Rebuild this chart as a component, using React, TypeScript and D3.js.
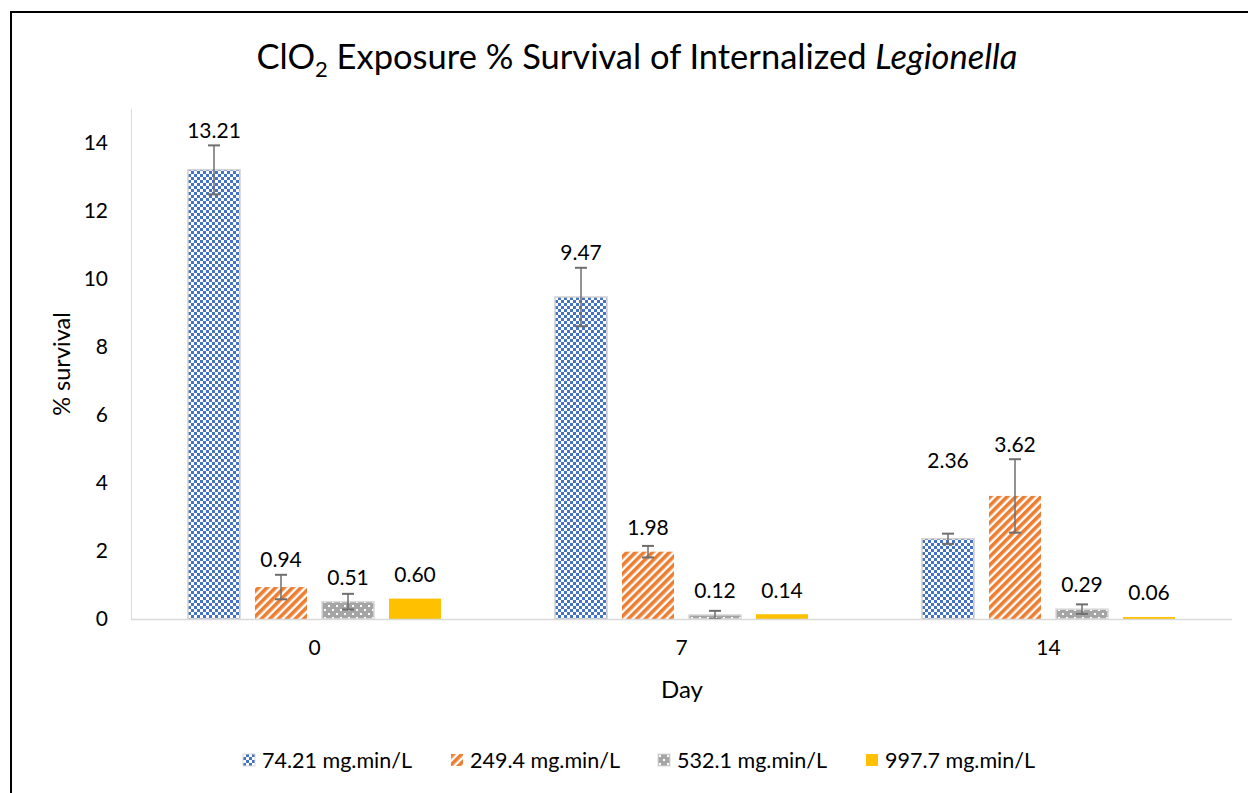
import React, { useEffect } from 'react';
import * as d3 from 'd3';

// ---- data ----
const days = ['0', '7', '14'];
const seriesNames = ['74.21 mg.min/L', '249.4 mg.min/L', '532.1 mg.min/L', '997.7 mg.min/L'];
const dose74 = [13.21, 9.47, 2.36];
const dose249 = [0.94, 1.98, 3.62];
const dose532 = [0.51, 0.12, 0.29];
const dose997 = [0.6, 0.14, 0.06];
const err74 = [0.72, 0.86, 0.15];
const err249 = [0.36, 0.17, 1.08];
const err532 = [0.23, 0.12, 0.14];
const err997 = [0, 0, 0];
const yTicks = [0, 2, 4, 6, 8, 10, 12, 14];

const seriesValues = [dose74, dose249, dose532, dose997];
const seriesErrors = [err74, err249, err532, err997];

// ---- layout ----
const W = 1248;
const H = 793;
const FONT = 'Lato, "Open Sans", sans-serif';
const fills = ['url(#pBlue)', 'url(#pOrange)', 'url(#pGray)', '#FFC000'];
const strokes = ['#d0d0d0', 'none', '#d9d9d9', 'none'];
const legendX = [243, 451, 658, 866];
// extra lift (px) for a manually placed label
const labelExtraLift = [
  [0, 0, 0, 0],
  [0, 0, 0, 0],
  [54, 0, 0, 0],
];

export default function App() {
  useEffect(() => {
    document.body.style.margin = '0';
  }, []);

  const x = d3.scaleBand<string>().domain(days).range([131, 1232]).paddingInner(0).paddingOuter(0);
  const xs = d3.scaleBand<number>().domain([0, 1, 2, 3]).range([57, 310]).paddingInner(15 / 67).paddingOuter(0);
  const y = d3.scaleLinear().domain([0, 15]).range([619, 109]);

  return (
    <svg width={W} height={H} style={{ display: 'block', background: '#fff' }} fontFamily={FONT}>
      <defs>
        <pattern id="pBlue" width={6} height={6} patternUnits="userSpaceOnUse">
          <rect width={6} height={6} fill="#4472C4" />
          <rect x={0} y={0} width={3} height={3} fill="#fff" />
          <rect x={3} y={3} width={3} height={3} fill="#fff" />
        </pattern>
        <pattern id="pOrange" width={6} height={6} patternUnits="userSpaceOnUse" patternTransform="rotate(45)">
          <rect width={6} height={6} fill="#fff" />
          <rect x={0} y={0} width={3.6} height={6} fill="#ED7D31" />
        </pattern>
        <pattern id="pGray" width={8} height={8} patternUnits="userSpaceOnUse">
          <rect width={8} height={8} fill="#A5A5A5" />
          <rect x={1} y={1} width={2} height={2} fill="#fff" />
          <rect x={5} y={5} width={2} height={2} fill="#fff" />
        </pattern>
      </defs>

      {/* chart frame */}
      <rect x={11} y={12} width={W + 20} height={H + 20} fill="none" stroke="#000" strokeWidth={2} />

      {/* title */}
      <text x={637} y={69} textAnchor="middle" fontSize={34.5} fill="#000">
        <tspan>ClO</tspan>
        <tspan fontSize={22} dy={8}>2</tspan>
        <tspan dy={-8}> Exposure % Survival of Internalized </tspan>
        <tspan fontStyle="italic">Legionella</tspan>
      </text>

      {/* y axis */}
      <line x1={131.5} x2={131.5} y1={y(15)} y2={y(0)} stroke="#d9d9d9" strokeWidth={1} />
      {yTicks.map((t) => (
        <text key={t} x={108} y={y(t)} dy="0.35em" textAnchor="end" fontSize={21} fill="#000">
          {t}
        </text>
      ))}
      <text transform={`translate(70,${y(7.5)}) rotate(-90)`} textAnchor="middle" fontSize={23.5} fill="#000">
        % survival
      </text>

      {/* bars */}
      {days.map((d, di) => (
        <g key={d} transform={`translate(${x(d)},0)`}>
          {seriesValues.map((vals, si) => {
            const v = vals[di];
            const e = seriesErrors[si][di];
            const bx = xs(si)!;
            const bw = xs.bandwidth();
            const cx = bx + bw / 2;
            const top = y(v);
            const errTop = y(v + e);
            const labelY = Math.min(errTop - 15, top - 24) - labelExtraLift[di][si];
            return (
              <g key={si}>
                <rect
                  x={bx}
                  y={top}
                  width={bw}
                  height={y(0) - top}
                  fill={fills[si]}
                  stroke={strokes[si]}
                  strokeWidth={1.5}
                />
                {e > 0 && (
                  <g stroke="#6e6e6e">
                    <line x1={cx} x2={cx} y1={y(v + e)} y2={y(Math.max(0, v - e))} strokeWidth={1.5} />
                    <line x1={cx - 6} x2={cx + 6} y1={y(v + e)} y2={y(v + e)} strokeWidth={2} />
                    <line x1={cx - 6} x2={cx + 6} y1={y(Math.max(0, v - e))} y2={y(Math.max(0, v - e))} strokeWidth={2} />
                  </g>
                )}
                <text x={cx} y={labelY} dy="0.35em" textAnchor="middle" fontSize={21} fill="#000">
                  {v.toFixed(2)}
                </text>
              </g>
            );
          })}
          <text x={x.bandwidth() / 2} y={648} dy="0.35em" textAnchor="middle" fontSize={21} fill="#000">
            {d}
          </text>
        </g>
      ))}

      {/* baseline */}
      <line x1={131} x2={1232} y1={619.5} y2={619.5} stroke="#d9d9d9" strokeWidth={1.5} />

      {/* x axis title */}
      <text x={682} y={690} dy="0.35em" textAnchor="middle" fontSize={24} fill="#000">
        Day
      </text>

      {/* legend */}
      {seriesNames.map((n, i) => (
        <g key={n} transform={`translate(${legendX[i]},754)`}>
          <rect width={12} height={12} fill={fills[i]} stroke={strokes[i] === 'none' ? 'none' : '#d9d9d9'} strokeWidth={1} />
          <text x={19} y={6} dy="0.35em" fontSize={21.5} fill="#000">
            {n}
          </text>
        </g>
      ))}
    </svg>
  );
}
